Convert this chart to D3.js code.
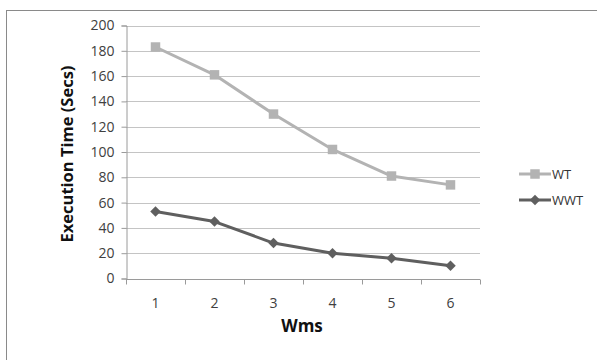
<!DOCTYPE html>
<html>
<head>
<meta charset="utf-8">
<script src="https://cdn.jsdelivr.net/npm/d3@7"></script>
<style>
  html, body { margin: 0; padding: 0; background: #fff; }
  svg { display: block; }
  text { font-family: "Open Sans", Lato, sans-serif; }
</style>
</head>
<body>
<svg id="chart" width="597" height="360"></svg>
<script>
// Data
const categories = ["1", "2", "3", "4", "5", "6"];
const wtValues  = [183, 161, 130, 102, 81, 74];
const wwtValues = [53, 45, 28, 20, 16, 10];
const seriesNames = ["WT", "WWT"];
const yTicks = [0, 20, 40, 60, 80, 100, 120, 140, 160, 180, 200];

const svg = d3.select("#chart");

// Outer chart frame (right and bottom edges fall outside the view)
svg.append("rect")
  .attr("x", 6.5).attr("y", 10.5)
  .attr("width", 620).attr("height", 400)
  .attr("fill", "#fff").attr("stroke", "#8a8a8a").attr("stroke-width", 1);

const plot = { left: 126, right: 480, top: 25.5, bottom: 278.5 };

const x = d3.scaleBand().domain(categories).range([plot.left, plot.right]);
const y = d3.scaleLinear().domain([0, 200]).range([plot.bottom, plot.top]);

// Horizontal gridlines
svg.append("g")
  .selectAll("line")
  .data(yTicks.filter(d => d > 0))
  .join("line")
  .attr("x1", plot.left).attr("x2", plot.right)
  .attr("y1", d => Math.round(y(d)) + 0.5).attr("y2", d => Math.round(y(d)) + 0.5)
  .attr("stroke", "#c4c4c4").attr("stroke-width", 1);

// Y axis
const yAxis = svg.append("g")
  .attr("transform", `translate(${plot.left + 0.5},0)`)
  .call(d3.axisLeft(y).tickValues(yTicks).tickSize(5).tickPadding(7));
yAxis.select(".domain").attr("stroke", "#9a9a9a");
yAxis.selectAll(".tick line").attr("stroke", "#9a9a9a");
yAxis.selectAll(".tick text")
  .attr("fill", "#404040").style("font-size", "14px")
  .style("font-family", "'Open Sans', Lato, sans-serif");

// X axis: ticks on band boundaries, labels at band centres
const xAxisG = svg.append("g")
  .attr("transform", `translate(0,${Math.round(plot.bottom) + 0.5})`);
xAxisG.append("line")
  .attr("x1", plot.left).attr("x2", plot.right)
  .attr("stroke", "#9a9a9a");
const boundaries = categories.map(c => x(c)).concat([x(categories[categories.length - 1]) + x.bandwidth()]);
xAxisG.selectAll("line.tick")
  .data(boundaries)
  .join("line")
  .attr("class", "tick")
  .attr("x1", d => Math.round(d) + 0.5).attr("x2", d => Math.round(d) + 0.5)
  .attr("y1", 0).attr("y2", 5)
  .attr("stroke", "#9a9a9a");
xAxisG.selectAll("text")
  .data(categories)
  .join("text")
  .attr("x", d => x(d) + x.bandwidth() / 2)
  .attr("y", 28)
  .attr("text-anchor", "middle")
  .attr("fill", "#404040")
  .style("font-size", "14px")
  .text(d => d);

// Axis titles
svg.append("text")
  .attr("transform", "translate(73,154) rotate(-90)")
  .attr("text-anchor", "middle")
  .attr("fill", "#111")
  .style("font-size", "16.5px").style("font-weight", "bold")
  .text("Execution Time (Secs)");

svg.append("text")
  .attr("x", 302).attr("y", 332)
  .attr("text-anchor", "middle")
  .attr("fill", "#111")
  .style("font-size", "17px").style("font-weight", "bold")
  .text("Wms");

// Series
const series = [
  { name: seriesNames[0], values: wtValues, color: "#b3b3b3", marker: "square" },
  { name: seriesNames[1], values: wwtValues, color: "#5f5f5f", marker: "diamond" }
];

const line = d3.line()
  .x((d, i) => x(categories[i]) + x.bandwidth() / 2)
  .y(d => y(d));

const squareSym = d3.symbol().type(d3.symbolSquare).size(90);
const diamondSym = d3.symbol().type(d3.symbolDiamond2).size(70);

function drawMarker(sel, s) {
  const sym = s.marker === "square" ? squareSym : diamondSym;
  sel.append("path").attr("d", sym()).attr("fill", s.color);
}

series.forEach(s => {
  svg.append("path")
    .datum(s.values)
    .attr("d", line)
    .attr("fill", "none")
    .attr("stroke", s.color)
    .attr("stroke-width", 3)
    .attr("stroke-linejoin", "round");
  svg.append("g")
    .selectAll("g")
    .data(s.values)
    .join("g")
    .attr("transform", (d, i) => `translate(${x(categories[i]) + x.bandwidth() / 2},${y(d)})`)
    .each(function () { drawMarker(d3.select(this), s); });
});

// Legend
const legendY = [174, 200];
series.forEach((s, i) => {
  const g = svg.append("g").attr("transform", `translate(519,${legendY[i]})`);
  g.append("line").attr("x1", 0).attr("x2", 32).attr("y1", 0).attr("y2", 0)
    .attr("stroke", s.color).attr("stroke-width", 3);
  const m = g.append("g").attr("transform", "translate(16,0)");
  drawMarker(m, s);
  g.append("text").attr("x", 33).attr("y", 4.5)
    .attr("fill", "#333").style("font-size", "13px")
    .text(s.name);
});
</script>
</body>
</html>
